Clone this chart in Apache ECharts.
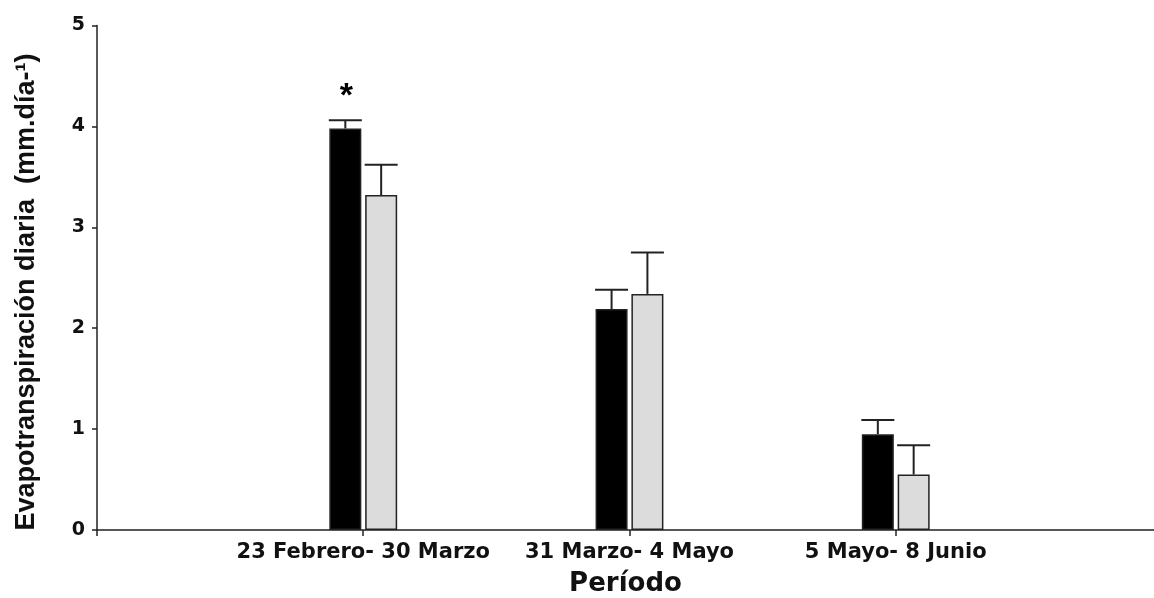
<!DOCTYPE html>
<html>
<head>
<meta charset="utf-8">
<script src="https://cdn.jsdelivr.net/npm/echarts@6/dist/echarts.min.js"></script>
<style>
  html, body { margin: 0; padding: 0; background: #ffffff; }
  #chart { width: 1154px; height: 598px; }
</style>
</head>
<body>
<div id="chart"></div>
<script>
// Periods shown on the x axis (placed at 1, 2, 3 on a value axis)
const categories = ['23 Febrero- 30 Marzo', '31 Marzo- 4 Mayo', '5 Mayo- 8 Junio'];
const positions = [1, 2, 3];

// Daily evapotranspiration (mm/day) and upper error for the two treatments
const blackValues = [3.98, 2.19, 0.95];
const blackErrors = [0.08, 0.19, 0.14];
const greyValues = [3.32, 2.34, 0.55];
const greyErrors = [0.30, 0.41, 0.29];

// Significance marks drawn over the black bars
const significance = ['*', '', ''];

// Y axis ticks
const yTicks = [0, 1, 2, 3, 4, 5];

const BAR_W = 32;
const BAR_GAP_PCT = 12;
const GAP_PX = BAR_W * BAR_GAP_PCT / 100;
const OFFSET = BAR_W / 2 + GAP_PX / 2;

const chart = echarts.init(document.getElementById('chart'), null, { renderer: 'canvas' });

function errorRenderer(offset, marks) {
  return function (params, api) {
    const x = api.value(0);
    const v = api.value(1);
    const e = api.value(2);
    const base = api.coord([x, v]);
    const top = api.coord([x, v + e]);
    const cx = base[0] + offset;
    const half = BAR_W / 2 + 0.5;
    const style = { stroke: '#222', lineWidth: 2, fill: null };
    const children = [
      { type: 'line', shape: { x1: cx, y1: base[1], x2: cx, y2: top[1] }, style: style },
      { type: 'line', shape: { x1: cx - half, y1: top[1], x2: cx + half, y2: top[1] }, style: style }
    ];
    const mark = marks ? marks[params.dataIndex] : '';
    if (mark) {
      children.push({
        type: 'text',
        style: {
          text: mark, x: cx + 1, y: top[1] - 24,
          fill: '#000', font: 'bold 34px "Liberation Sans", Arial, sans-serif',
          align: 'center', verticalAlign: 'middle'
        }
      });
    }
    return { type: 'group', children: children };
  };
}

const option = {
  backgroundColor: '#ffffff',
  animation: false,
  grid: { left: 97, top: 25.5, right: 0, bottom: 68, containLabel: false, outerBoundsMode: 'none' },
  xAxis: {
    type: 'value',
    min: 0, max: 3.97, interval: 1,
    axisLine: { show: true, onZero: false, lineStyle: { color: '#222', width: 1.5 } },
    axisTick: { show: true, length: 6, inside: false, lineStyle: { color: '#222', width: 1.5 } },
    splitLine: { show: false },
    axisLabel: {
      margin: 12,
      color: '#111',
      fontFamily: '"DejaVu Sans", sans-serif',
      fontWeight: 'bold',
      fontSize: 21,
      showMaxLabel: false,
      formatter: function (v) { return categories[positions.indexOf(v)] || ''; }
    },
    name: 'Período',
    nameLocation: 'middle',
    nameGap: 41,
    nameTextStyle: {
      color: '#111',
      fontFamily: '"DejaVu Sans", sans-serif',
      fontWeight: 'bold',
      fontSize: 26
    }
  },
  yAxis: {
    type: 'value',
    min: yTicks[0], max: yTicks[yTicks.length - 1], interval: 1,
    axisLine: { show: true, lineStyle: { color: '#222', width: 1.5 } },
    axisTick: { show: true, length: 5, inside: false, lineStyle: { color: '#222', width: 1.5 } },
    splitLine: { show: false },
    axisLabel: {
      margin: 12,
      color: '#111',
      fontFamily: '"DejaVu Sans", sans-serif',
      fontWeight: 'bold',
      fontSize: 19
    }
  },
  graphic: [{
    type: 'text',
    x: 27, y: 292,
    rotation: Math.PI / 2,
    style: {
      text: 'Evapotranspiración diaria  (mm.día-¹)',
      fill: '#111',
      font: 'bold 27px "Liberation Sans", Arial, sans-serif',
      align: 'center',
      verticalAlign: 'middle'
    }
  }],
  series: [
    {
      type: 'bar',
      barWidth: BAR_W,
      barGap: BAR_GAP_PCT + '%',
      data: positions.map((p, i) => [p, blackValues[i]]),
      itemStyle: { color: '#000000', borderColor: '#222', borderWidth: 1.5 },
      z: 2
    },
    {
      type: 'bar',
      barWidth: BAR_W,
      data: positions.map((p, i) => [p, greyValues[i]]),
      itemStyle: { color: '#dcdcdc', borderColor: '#222', borderWidth: 1.5 },
      z: 2
    },
    {
      type: 'custom',
      renderItem: errorRenderer(-OFFSET, significance),
      data: positions.map((p, i) => [p, blackValues[i], blackErrors[i]]),
      encode: { x: 0, y: [1] },
      clip: false,
      z: 3
    },
    {
      type: 'custom',
      renderItem: errorRenderer(OFFSET, null),
      data: positions.map((p, i) => [p, greyValues[i], greyErrors[i]]),
      encode: { x: 0, y: [1] },
      clip: false,
      z: 3
    }
  ]
};

chart.setOption(option);
</script>
</body>
</html>
